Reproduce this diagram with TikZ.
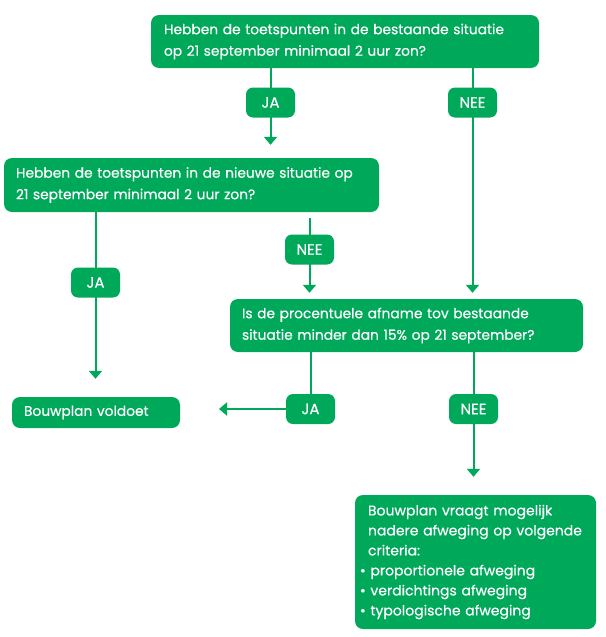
\documentclass[tikz,border=0pt]{standalone}
\usepackage{fontspec}
\setmainfont{Poppins}[FakeBold=0.4]
\usetikzlibrary{arrows.meta,backgrounds}
\definecolor{gr}{RGB}{0,168,89}
\tikzset{
  box/.style={fill=gr, rounded corners=8pt, text=white, align=left, anchor=center,
    inner xsep=12pt, inner ysep=0pt, font=\fontsize{13.8}{21.5}\selectfont},
  lbl/.style={fill=gr, rounded corners=7pt, text=white, minimum width=49pt, minimum height=30pt,
    inner sep=0pt, anchor=center, font=\fontsize{15}{16}\selectfont},
  conn/.style={draw=gr, line width=2pt},
  arr/.style={conn, -{Triangle[width=13pt,length=8pt]}}
}
\begin{document}
\begin{tikzpicture}[x=1pt,y=-1pt]
\useasboundingbox (0,0) rectangle (605,637);
\node[box, minimum height=53pt, text width=362pt, inner xsep=13pt] (b1) at (345,41.5)
  {Hebben de toetspunten in de bestaande situatie\\op 21 september minimaal 2 uur zon?};
\node[box, minimum height=54pt, text width=351pt] (b2) at (191.5,185)
  {Hebben de toetspunten in de nieuwe situatie op\\21 september minimaal 2 uur zon?};
\node[box, minimum height=53pt, text width=329pt] (b3) at (406.5,325.5)
  {Is de procentuele afname tov bestaande\\situatie minder dan 15\% op 21 september?};
\node[box, minimum height=31pt, text width=144pt] (b4) at (96,412.5)
  {Bouwplan voldoet};
\node[box, minimum height=134pt, text width=231pt, inner xsep=5pt, font=\fontsize{14}{20}\selectfont] (b5) at (475.5,562)
  {\hspace*{8pt}Bouwplan vraagt mogelijk\\\hspace*{8pt}nadere afweging op volgende\\\hspace*{8pt}criteria:\\\textbullet\ proportionele afweging\\\textbullet\ verdichtings afweging\\\textbullet\ typologische afweging};
\node[lbl] (ja1) at (270.5,102.5) {JA};
\node[lbl] (nee1) at (472.5,102.5) {NEE};
\node[lbl] (ja2) at (95.5,282.5) {JA};
\node[lbl] (nee2) at (309.5,249.5) {NEE};
\node[lbl] (ja3) at (310.5,409) {JA};
\node[lbl] (nee3) at (473.5,409) {NEE};
\coordinate (t3) at (219,409);
\begin{scope}[on background layer]
\draw[arr, shorten >=13pt] (ja1 |- b1.south) -- (ja1 |- b2.north);
\draw[arr, shorten >=6pt] (nee1 |- b1.south) -- (nee1 |- b3.north);
\draw[arr, shorten >=18pt] (ja2 |- b2.south) -- (ja2 |- b4.north);
\draw[arr, shorten <=6pt, shorten >=6pt] (nee2 |- b2.south) -- (nee2 |- b3.north);
\draw[conn] (ja3 |- b3.south) -- (ja3);
\draw[arr] (ja3.west) -- (t3);
\draw[arr, shorten >=18pt] (nee3 |- b3.south) -- (nee3 |- b5.north);
\end{scope}
\end{tikzpicture}
\end{document}
